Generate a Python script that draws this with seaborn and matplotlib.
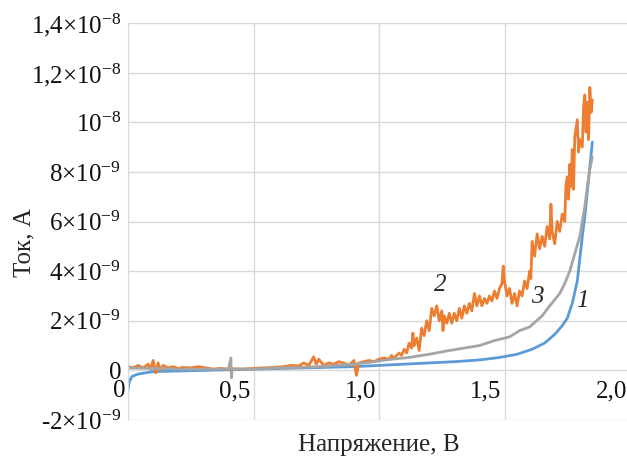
import numpy as np
import pandas as pd
import matplotlib
matplotlib.use("Agg")
import matplotlib.pyplot as plt
import matplotlib.transforms as mtransforms
import seaborn as sns

# curve 1 (blue), voltage in V, current in nA
v1 = [0.0, 0.004, 0.015, 0.04, 0.1, 0.3, 0.5, 0.7, 0.9, 1.0, 1.1, 1.2, 1.3, 1.4,
      1.48, 1.55, 1.61, 1.66, 1.7, 1.73, 1.75, 1.77, 1.79, 1.80, 1.81, 1.82,
      1.83, 1.84, 1.85]
i1 = [-0.8, -0.5, -0.25, -0.15, -0.05, 0.0, 0.05, 0.1, 0.15, 0.2, 0.25, 0.3,
      0.35, 0.42, 0.52, 0.65, 0.85, 1.1, 1.45, 1.8, 2.1, 2.7, 3.6, 4.5, 5.4,
      6.2, 7.2, 8.2, 9.2]

# curve 2 (orange, noisy)
v2 = [0.00, 0.02, 0.04, 0.06, 0.08, 0.09, 0.10, 0.11, 0.12, 0.13, 0.14, 0.16,
      0.18, 0.20, 0.22, 0.25, 0.28, 0.31, 0.34, 0.37, 0.40, 0.43, 0.46, 0.50,
      0.54, 0.58, 0.62, 0.65, 0.68, 0.70, 0.72, 0.74, 0.75, 0.76, 0.78, 0.80,
      0.82, 0.84, 0.86, 0.88, 0.90, 0.91, 0.92, 0.94, 0.96, 0.98, 1.00,
      1.02, 1.04, 1.05, 1.06, 1.08, 1.09, 1.10, 1.11, 1.12, 1.13, 1.135, 1.14,
      1.15, 1.16, 1.17, 1.18, 1.19, 1.20, 1.21, 1.22, 1.23, 1.24, 1.25, 1.255,
      1.26, 1.27, 1.28, 1.29, 1.30, 1.31, 1.32, 1.33, 1.34, 1.35, 1.36, 1.37,
      1.38, 1.39, 1.40, 1.41, 1.42, 1.43, 1.44, 1.45, 1.46, 1.47, 1.48, 1.49,
      1.495, 1.50, 1.51, 1.52, 1.53, 1.54, 1.55, 1.56, 1.57, 1.58, 1.59, 1.60,
      1.605, 1.61, 1.62, 1.63, 1.64, 1.65, 1.66, 1.67, 1.68, 1.685, 1.69, 1.70,
      1.71, 1.72, 1.73, 1.74, 1.745, 1.75, 1.755, 1.76, 1.765, 1.77, 1.775,
      1.78, 1.79, 1.795, 1.80, 1.81, 1.815, 1.82, 1.825, 1.83, 1.835, 1.84,
      1.845, 1.85]
i2 = [0.15, 0.1, 0.2, 0.1, 0.25, 0.05, 0.4, -0.1, 0.3, 0.0, 0.2, 0.1,
      0.15, 0.08, 0.12, 0.1, 0.15, 0.1, 0.05, 0.08, 0.05, 0.06, 0.05, 0.08,
      0.1, 0.12, 0.15, 0.2, 0.18, 0.3, 0.2, 0.55, 0.25, 0.45, 0.2, 0.3,
      0.25, 0.35, 0.3, 0.2, 0.4, -0.2, 0.3, 0.35, 0.4, 0.35, 0.45,
      0.5, 0.45, 0.6, 0.5, 0.7, 0.6, 0.85, 0.7, 1.1, 0.9, 1.5, 1.0,
      1.3, 0.8, 1.7, 1.4, 2.0, 1.6, 2.5, 2.2, 2.6, 2.0, 2.4, 1.6,
      2.2, 1.9, 2.3, 1.9, 2.3, 2.0, 2.5, 2.1, 2.6, 2.3, 2.7, 2.4,
      3.1, 2.6, 3.0, 2.6, 2.9, 2.7, 3.0, 2.8, 3.2, 2.9, 3.3, 3.5,
      4.2, 3.6, 3.0, 3.3, 2.7, 3.1, 2.6, 3.2, 3.0, 3.6, 3.3, 4.0,
      3.7, 5.2, 4.6, 5.5, 4.9, 5.4, 5.0, 5.8, 5.3, 6.7, 5.6, 5.1,
      6.0, 5.6, 6.3, 6.0, 7.5, 7.8, 6.9, 8.3, 7.4, 8.9, 7.3,
      9.4, 10.1, 8.8, 9.3, 9.0, 10.6, 11.1, 9.6, 10.8, 9.3, 11.4,
      10.4, 10.9]

# curve 3 (grey)
v3 = [0.0, 0.1, 0.2, 0.3, 0.40, 0.41, 0.412, 0.415, 0.5, 0.6, 0.7, 0.8, 0.9,
      0.96, 1.0, 1.05, 1.12, 1.2, 1.28, 1.34, 1.40, 1.46, 1.52, 1.56, 1.60,
      1.65, 1.68, 1.72, 1.74, 1.76, 1.78, 1.80, 1.82, 1.83, 1.84, 1.85]
i3 = [0.1, 0.08, 0.05, 0.05, 0.05, 0.5, -0.3, 0.05, 0.05, 0.1, 0.12, 0.18,
      0.25, 0.32, 0.38, 0.45, 0.52, 0.65, 0.8, 0.9, 1.0, 1.2, 1.35, 1.6, 1.75,
      2.2, 2.6, 3.1, 3.5, 4.0, 4.7, 5.4, 6.6, 7.4, 8.1, 8.6]

x_ticks = [0, 0.5, 1.0, 1.5, 2.0]
x_labels = ["0", "0,5", "1,0", "1,5", "2,0"]
y_ticks = [-2e-9, 0, 2e-9, 4e-9, 6e-9, 8e-9, 1e-8, 1.2e-8, 1.4e-8]
y_labels = ["-2×10$^{-9}$", "0", "2×10$^{-9}$", "4×10$^{-9}$", "6×10$^{-9}$",
            "8×10$^{-9}$", "10$^{-8}$", "1,2×10$^{-8}$", "1,4×10$^{-8}$"]

sns.set_style("white")
plt.rcParams["font.family"] = ["Liberation Serif", "DejaVu Serif"]
plt.rcParams["mathtext.fontset"] = "custom"
plt.rcParams["mathtext.rm"] = "Liberation Serif"
plt.rcParams["mathtext.it"] = "Liberation Serif:italic"

fig = plt.figure(figsize=(6.27, 4.57), dpi=100)
ax = fig.add_axes([128 / 627, 1 - 420 / 457, 502 / 627, 397 / 457])

curves = [(v1, i1, "#5B9BD5"), (v2, i2, "#ED7D31"), (v3, i3, "#A5A5A5")]
for v, i, col in curves:
    df = pd.DataFrame({"U": v, "I": np.array(i) * 1e-9})
    sns.lineplot(data=df, x="U", y="I", ax=ax, color=col, lw=2,
                 sort=False, estimator=None)

ax.grid(True, color="#D9D9D9", lw=1)
ax.set_axisbelow(True)
# x labels sit under the zero line, not at the bottom
ax.spines["bottom"].set_position(("data", 0))
ax.spines["bottom"].set_visible(False)
for s in ["top", "right"]:
    ax.spines[s].set_visible(False)
ax.spines["left"].set_color("#D9D9D9")

ax.set_xlim(0, 2.0)
ax.set_ylim(-2e-9, 1.4e-8)
ax.set_xticks(x_ticks)
ax.set_xticklabels(x_labels)
ax.set_yticks(y_ticks)
ax.set_yticklabels(y_labels)
ax.tick_params(axis="both", length=0, labelsize=18, colors="#111111")
ax.tick_params(axis="x", pad=7)
ax.tick_params(axis="y", pad=5)

# excel puts the x labels to the left of their tick
shift = mtransforms.ScaledTranslation(-3 / 100, 0, fig.dpi_scale_trans)
for lbl in ax.get_xticklabels():
    lbl.set_horizontalalignment("right")
    lbl.set_transform(lbl.get_transform() + shift)

ax.set_xlabel("Напряжение, В", fontsize=18)
ax.set_ylabel("Ток, А", fontsize=18)
ax.xaxis.set_label_coords(0.5, -0.035)
ax.yaxis.set_label_coords(-0.184, 0.446)

for lab, x, y in [("2", 1.243, 3.43e-9), ("3", 1.63, 2.95e-9), ("1", 1.81, 2.8e-9)]:
    ax.text(x, y, lab, fontsize=18, style="italic", ha="center", va="center")

fig.savefig("out.png", dpi=100)
